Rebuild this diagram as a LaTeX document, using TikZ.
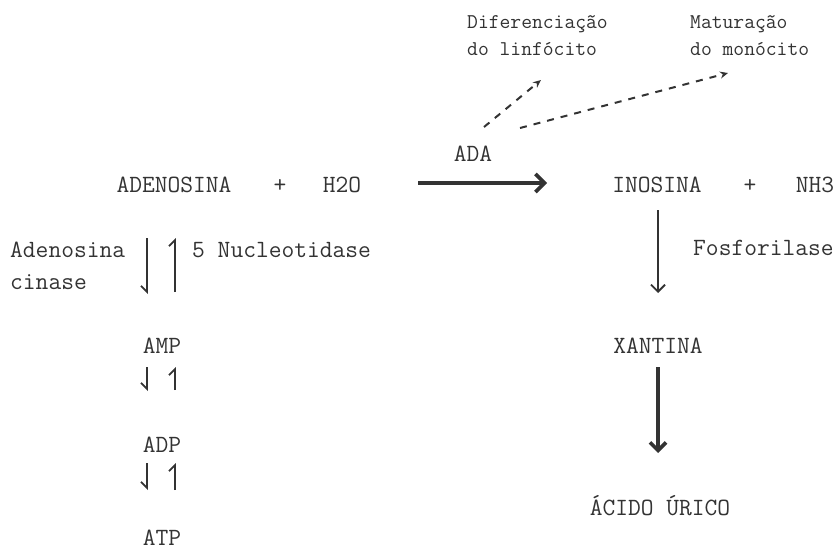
\documentclass[tikz,border=0pt]{standalone}
\usepackage{fontspec}
\usetikzlibrary{arrows.meta}
\definecolor{ink}{HTML}{333333}
\begin{document}
\begin{tikzpicture}[x=1pt,y=-1pt,
  lab/.style={inner sep=0pt,anchor=base,text=ink,font=\ttfamily\fontsize{24.8}{26}\selectfont},
  labw/.style={lab,anchor=base west},
  toplab/.style={inner sep=0pt,anchor=base west,text=ink,font=\ttfamily\fontsize{21}{23}\selectfont},
  thinline/.style={draw=ink,line width=1.8pt},
  thickline/.style={draw=ink,line width=3.6pt},
  hdown/.style={thinline,-{Straight Barb[harpoon,swap,length=6pt,width=12pt]}},
  hup/.style={thinline,-{Straight Barb[harpoon,length=6pt,width=12pt]}},
  dashline/.style={draw=ink,line width=2pt,dash pattern=on 7pt off 7pt,-{Stealth[length=8pt,width=7pt]}}]
\useasboundingbox (0,0) rectangle (838,552);
% top labels
\node[toplab] (dif1) at (467,28) {Diferenciação};
\node[toplab] (dif2) at (467,55) {do linfócito};
\node[toplab] (mat1) at (690,28) {Maturação};
\node[toplab] (mat2) at (690,55) {do monócito};
% ADA
\node[lab] (ada) at (473,161) {ADA};
\coordinate (d1s) at (484,127);
\coordinate (d1e) at (541,80);
\coordinate (d2s) at (520,128);
\coordinate (d2e) at (728,73);
\draw[dashline] (d1s) -- (d1e);
\draw[dashline] (d2s) -- (d2e);
% main row
\node[lab] (aden) at (174,192) {ADENOSINA};
\node[lab] (p1) at (280,192) {+};
\node[lab] (h2o) at (342,192) {H2O};
\node[lab] (ino) at (657,192) {INOSINA};
\node[lab] (p2) at (750,192) {+};
\node[lab] (nh3) at (815,192) {NH3};
\coordinate (a1) at (418,183);
\coordinate (a2) at (547,183);
\draw[thickline,-{Straight Barb[length=9pt,width=18pt]}] (a1) -- (a2);
% left column
\node[labw] (cin1) at (10,257) {Adenosina};
\node[labw] (cin2) at (10,289) {cinase};
\node[labw] (nuc) at (192,257) {5 Nucleotidase};
\node[lab] (amp) at (162,353) {AMP};
\node[lab] (adp) at (162,452) {ADP};
\node[lab] (atp) at (162,545) {ATP};
\coordinate (l1a) at (147,238); \coordinate (l1b) at (147,294);
\coordinate (r1a) at (175,292); \coordinate (r1b) at (175,238);
\draw[hdown] (l1a) -- (l1b);
\draw[hup] (r1a) -- (r1b);
\coordinate (l2a) at (147,367); \coordinate (l2b) at (147,391);
\coordinate (r2a) at (175,390); \coordinate (r2b) at (175,367);
\draw[hdown] (l2a) -- (l2b);
\draw[hup] (r2a) -- (r2b);
\coordinate (l3a) at (147,463); \coordinate (l3b) at (147,490);
\coordinate (r3a) at (175,490); \coordinate (r3b) at (175,463);
\draw[hdown] (l3a) -- (l3b);
\draw[hup] (r3a) -- (r3b);
% right column
\node[labw] (fos) at (693,255) {Fosforilase};
\node[lab] (xan) at (658,353) {XANTINA};
\node[lab] (aci) at (660,515) {ÁCIDO ÚRICO};
\coordinate (i1) at (658,210); \coordinate (i2) at (658,293);
\draw[thinline,-{Straight Barb[length=7pt,width=14pt]}] (i1) -- (i2);
\coordinate (x1) at (658,367); \coordinate (x2) at (658,453);
\draw[thickline,-{Straight Barb[length=8pt,width=16pt]}] (x1) -- (x2);
\end{tikzpicture}
\end{document}
